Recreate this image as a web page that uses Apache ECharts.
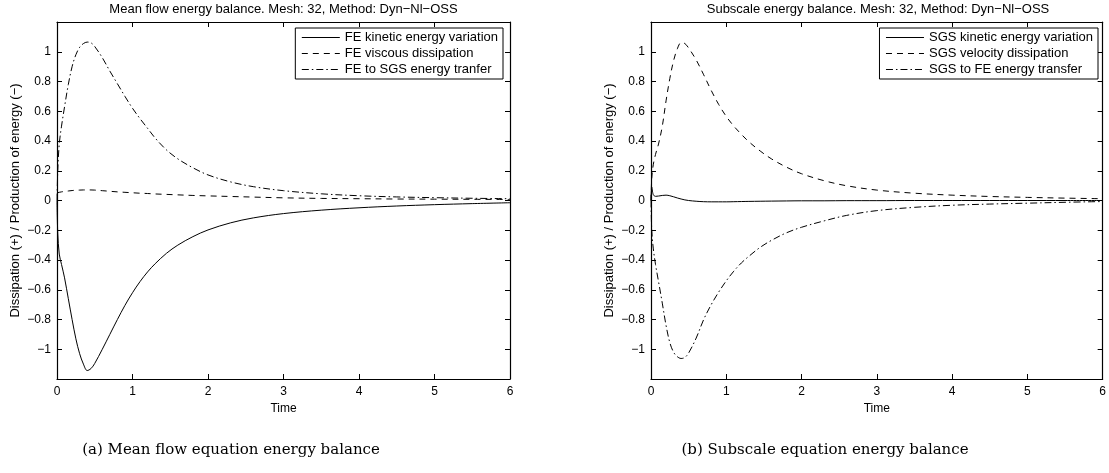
<!DOCTYPE html>
<html>
<head>
<meta charset="utf-8">
<script src="https://cdn.jsdelivr.net/npm/echarts@6/dist/echarts.min.js"></script>
<style>
  html, body { margin: 0; padding: 0; background: #fff; }
  #chart { width: 1109px; height: 473px; }
</style>
</head>
<body>
<div id="chart"></div>
<script>
// Sample times shared by every curve
const times = [0, 0.01, 0.03, 0.06, 0.1, 0.15, 0.2, 0.25, 0.3, 0.35, 0.4, 0.45, 0.5,
  0.6, 0.7, 0.8, 0.9, 1.0, 1.1, 1.2, 1.3, 1.45, 1.6, 1.8, 2.0, 2.3, 2.6, 3.0,
  3.5, 4.0, 4.5, 5.0, 5.5, 6.0];

// Mean flow (FE) energy balance
const feKinetic = [0, -0.22, -0.36, -0.43, -0.52, -0.66, -0.80, -0.93, -1.03, -1.10, -1.143, -1.13, -1.095,
  -1.00, -0.90, -0.80, -0.705, -0.62, -0.545, -0.48, -0.425, -0.355, -0.30, -0.243, -0.198, -0.15, -0.117, -0.088,
  -0.065, -0.049, -0.037, -0.028, -0.021, -0.015];
const feViscous = [0.05, 0.052, 0.055, 0.058, 0.061, 0.064, 0.067, 0.069, 0.070, 0.071, 0.071, 0.071, 0.070,
  0.066, 0.062, 0.058, 0.055, 0.052, 0.049, 0.047, 0.044, 0.041, 0.038, 0.034, 0.031, 0.027, 0.023, 0.018,
  0.014, 0.012, 0.010, 0.009, 0.008, 0.007];
const feToSgs = [0, 0.20, 0.38, 0.50, 0.63, 0.78, 0.90, 0.98, 1.03, 1.055, 1.065, 1.06, 1.035,
  0.96, 0.87, 0.785, 0.70, 0.62, 0.55, 0.485, 0.42, 0.34, 0.28, 0.22, 0.172, 0.125, 0.093, 0.066,
  0.045, 0.032, 0.024, 0.019, 0.015, 0.012];

// Subscale (SGS) energy balance
const sgsKinetic = [0, 0.09, 0.04, 0.028, 0.03, 0.034, 0.036, 0.032, 0.025, 0.017, 0.01, 0.004, 0.0,
  -0.005, -0.008, -0.009, -0.009, -0.009, -0.008, -0.007, -0.006, -0.005, -0.004, -0.003, -0.002, -0.002, -0.001, -0.001,
  0, 0, 0, 0, 0, 0];
const sgsVelocity = [0, 0.15, 0.24, 0.31, 0.38, 0.50, 0.67, 0.82, 0.94, 1.02, 1.062, 1.055, 1.025,
  0.945, 0.845, 0.74, 0.645, 0.565, 0.50, 0.445, 0.395, 0.333, 0.28, 0.224, 0.18, 0.133, 0.099, 0.07,
  0.049, 0.036, 0.027, 0.021, 0.016, 0.012];
const sgsToFe = [0, -0.20, -0.32, -0.43, -0.545, -0.69, -0.84, -0.955, -1.02, -1.05, -1.062, -1.055, -1.025,
  -0.925, -0.80, -0.70, -0.615, -0.54, -0.475, -0.42, -0.375, -0.315, -0.268, -0.217, -0.18, -0.137, -0.10, -0.068,
  -0.046, -0.032, -0.024, -0.018, -0.012, -0.007];

// Axis ticks
const xTicks = { min: 0, max: 6, step: 1 };
const yTicks = { min: -1.2, max: 1.2, step: 0.2 };

const titles = [
  'Mean flow energy balance. Mesh: 32, Method: Dyn\u2212Nl\u2212OSS',
  'Subscale energy balance. Mesh: 32, Method: Dyn\u2212Nl\u2212OSS'
];
const captions = [
  '(a) Mean flow equation energy balance',
  '(b) Subscale equation energy balance'
];
const leftNames = ['FE kinetic energy variation', 'FE viscous dissipation', 'FE to SGS energy tranfer'];
const rightNames = ['SGS kinetic energy variation', 'SGS velocity dissipation', 'SGS to FE energy transfer'];

const FONT = '"Liberation Sans", Arial, Helvetica, sans-serif';
const grids = [
  { left: 57, top: 22, width: 453, height: 357 },
  { left: 651, top: 22, width: 454, height: 357 }
];

function yLabel(v) {
  if (Math.abs(Math.abs(v) - 1.2) < 1e-6) return '';
  const s = String(Number(v.toFixed(1)));
  return s.replace('-', '\u2212');
}

const xAxes = [];
const yAxes = [];
grids.forEach((g, i) => {
  // bottom / left axes carry labels, top / right ones close the box
  xAxes.push({
    type: 'value', gridIndex: i, min: xTicks.min, max: xTicks.max, interval: xTicks.step,
    position: 'bottom',
    name: 'Time', nameLocation: 'middle', nameGap: 16,
    nameTextStyle: { fontFamily: FONT, fontSize: 12, color: '#000' },
    axisLine: { onZero: false, lineStyle: { color: '#000', width: 1.2 } },
    axisTick: { inside: true, length: 5, lineStyle: { color: '#000' } },
    axisLabel: { fontFamily: FONT, fontSize: 12, color: '#000', margin: 7 },
    splitLine: { show: false }
  });
  xAxes.push({
    type: 'value', gridIndex: i, min: xTicks.min, max: xTicks.max, interval: xTicks.step,
    position: 'top',
    axisLine: { onZero: false, lineStyle: { color: '#000', width: 1.2 } },
    axisTick: { inside: true, length: 5, lineStyle: { color: '#000' } },
    axisLabel: { show: false },
    splitLine: { show: false }
  });
  yAxes.push({
    type: 'value', gridIndex: i, min: yTicks.min, max: yTicks.max, interval: yTicks.step,
    position: 'left',
    name: 'Dissipation (+) / Production of energy (\u2212)', nameLocation: 'middle', nameGap: 35,
    nameTextStyle: { fontFamily: FONT, fontSize: 13, color: '#000' },
    axisLine: { onZero: false, lineStyle: { color: '#000', width: 1.2 } },
    axisTick: { inside: true, length: 5, lineStyle: { color: '#000' } },
    axisLabel: { fontFamily: FONT, fontSize: 12, color: '#000', margin: 6, formatter: yLabel },
    splitLine: { show: false }
  });
  yAxes.push({
    type: 'value', gridIndex: i, min: yTicks.min, max: yTicks.max, interval: yTicks.step,
    position: 'right',
    axisLine: { onZero: false, lineStyle: { color: '#000', width: 1.2 } },
    axisTick: { inside: true, length: 5, lineStyle: { color: '#000' } },
    axisLabel: { show: false },
    splitLine: { show: false }
  });
});

const dashed = [6, 5];
const dashDot = [7, 3, 1.5, 3];

function line(name, values, gridIdx, dash) {
  return {
    type: 'line', name: name,
    xAxisIndex: gridIdx * 2, yAxisIndex: gridIdx * 2,
    data: times.map((t, k) => [t, values[k]]),
    symbol: 'none', showSymbol: false,
    smooth: 0.35,
    lineStyle: { color: '#000', width: 1, type: dash },
    itemStyle: { color: '#000' },
    emphasis: { disabled: true },
    animation: false
  };
}

const series = [
  line(leftNames[0], feKinetic, 0, 'solid'),
  line(leftNames[1], feViscous, 0, dashed),
  line(leftNames[2], feToSgs, 0, dashDot),
  line(rightNames[0], sgsKinetic, 1, 'solid'),
  line(rightNames[1], sgsVelocity, 1, dashed),
  line(rightNames[2], sgsToFe, 1, dashDot)
];

function legend(names, right) {
  return {
    data: names, orient: 'vertical', right: right, top: 28,
    backgroundColor: '#fff', borderColor: '#000', borderWidth: 1,
    padding: [3, 5, 3, 6], itemGap: 3, itemWidth: 38, itemHeight: 13,
    itemStyle: { opacity: 0 },
    lineStyle: { width: 1 },
    textStyle: { fontFamily: FONT, fontSize: 13, color: '#000' },
    selectedMode: false
  };
}

const chart = echarts.init(document.getElementById('chart'), null, { renderer: 'canvas' });
chart.setOption({
  backgroundColor: '#fff',
  animation: false,
  title: titles.map((t, i) => ({
    text: t, left: grids[i].left + grids[i].width / 2, top: 3, textAlign: 'center', padding: 0,
    textStyle: { fontFamily: FONT, fontSize: 13, fontWeight: 'normal', color: '#000' }
  })),
  grid: grids,
  xAxis: xAxes,
  yAxis: yAxes,
  legend: [legend(leftNames, 606), legend(rightNames, 11)],
  series: series,
  graphic: captions.map((c, i) => ({
    type: 'text', x: i === 0 ? 231 : 825, y: 450,
    style: {
      text: c, font: '15px "DejaVu Serif", "Liberation Serif", serif', fill: '#000',
      textAlign: 'center', textVerticalAlign: 'middle'
    }
  }))
});
</script>
</body>
</html>
